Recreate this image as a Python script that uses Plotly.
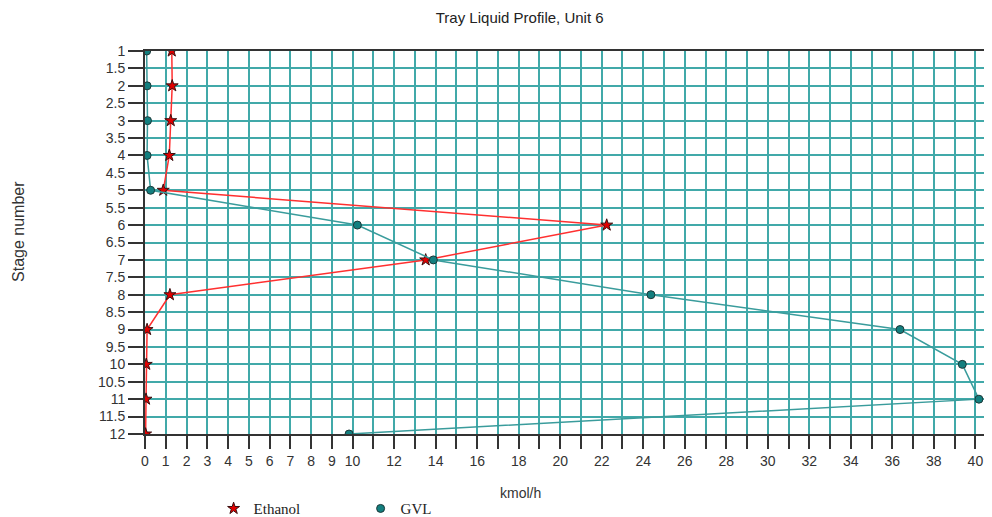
import plotly.graph_objects as go

stages = [1, 2, 3, 4, 5, 6, 7, 8, 9, 10, 11, 12]
ethanol = [1.29, 1.31, 1.24, 1.17, 0.88, 22.24, 13.52, 1.2, 0.1, 0.06, 0.05, 0.03]
gvl = [0.08, 0.1, 0.12, 0.1, 0.27, 10.23, 13.89, 24.37, 36.37, 39.37, 40.17, 9.83]

x_tickvals = list(range(0, 41))
x_ticktext = [str(v) if (v <= 10 or v % 2 == 0) else "" for v in x_tickvals]
y_tickvals = [1 + 0.5 * i for i in range(23)]
y_ticktext = [("%g" % v) for v in y_tickvals]

RED = "#ff3030"
TEAL_LINE = "#3a9c9c"
TEAL_MARK = "#137f7f"
GRID = "#41a9a9"

fig = go.Figure()
fig.add_trace(go.Scatter(
    x=ethanol, y=stages, mode="lines+markers", name="Ethanol", showlegend=False,
    line=dict(color=RED, width=1.5),
    marker=dict(symbol="star", size=9, color="#e00000", line=dict(color="#3a1010", width=1)),
))
fig.add_trace(go.Scatter(
    x=gvl, y=stages, mode="lines+markers", name="GVL", showlegend=False,
    line=dict(color=TEAL_LINE, width=1.5),
    marker=dict(symbol="circle", size=8, color=TEAL_MARK, line=dict(color="#1c3838", width=1)),
))
# legend entries (markers only)
fig.add_trace(go.Scatter(
    x=[None], y=[None], mode="markers", name="Ethanol",
    marker=dict(symbol="star", size=9, color="#e00000", line=dict(color="#3a1010", width=1)),
))
fig.add_trace(go.Scatter(
    x=[None], y=[None], mode="markers", name="GVL",
    marker=dict(symbol="circle", size=8, color=TEAL_MARK, line=dict(color="#1c3838", width=1)),
))

fig.update_layout(
    width=984, height=509,
    margin=dict(l=137, r=0, t=43, b=83, autoexpand=False),
    paper_bgcolor="white", plot_bgcolor="white",
    font=dict(family="Liberation Sans, Arial, sans-serif", color="#333333", size=13),
    title=dict(text="Tray Liquid Profile, Unit 6", x=0.52, xanchor="center", y=0.98, yanchor="middle",
               font=dict(size=15, color="#222222")),
    showlegend=True,
    legend=dict(orientation="h", x=0.081, xanchor="left", y=-0.195, yanchor="middle",
                font=dict(family="Liberation Serif, Times New Roman, serif", size=15, color="#222222"),
                entrywidth=102, entrywidthmode="pixels", bgcolor="rgba(0,0,0,0)"),
    xaxis=dict(
        range=[0, 40.8], tickvals=x_tickvals, ticktext=x_ticktext,
        showgrid=True, gridcolor=GRID, gridwidth=2, zeroline=False,
        showline=True, linecolor="#333333", linewidth=2, mirror=True,
        ticks="outside", ticklen=13, tickcolor="#333333", tickwidth=2,
        tickfont=dict(size=14, color="#333333"),
    ),
    yaxis=dict(
        range=[12, 1], tickvals=y_tickvals, ticktext=y_ticktext,
        showgrid=True, gridcolor=GRID, gridwidth=2, zeroline=False,
        showline=True, linecolor="#333333", linewidth=2,
        ticks="outside", ticklen=15, tickcolor="#333333", tickwidth=2,
        tickfont=dict(size=14, color="#333333"),
    ),
    annotations=[
        dict(text="kmol/h", xref="paper", yref="paper", x=0.443, y=-0.154,
             xanchor="center", yanchor="middle", showarrow=False,
             font=dict(size=14, color="#333333")),
        dict(text="Stage number", xref="paper", yref="paper", x=-0.15, y=0.53,
             xanchor="center", yanchor="middle", showarrow=False, textangle=-90,
             font=dict(size=16, color="#333333")),
    ],
)

fig.write_html("out.html")
